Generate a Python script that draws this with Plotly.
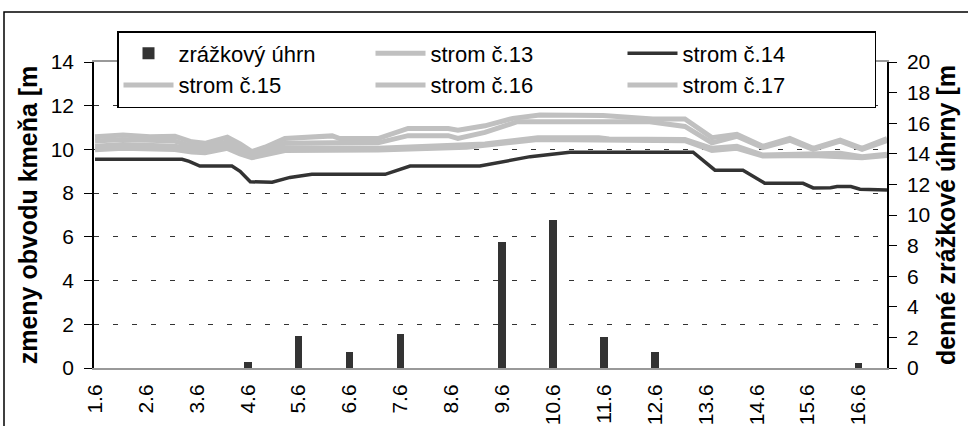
import plotly.graph_objects as go

# ---- data ----
tick_labels = ["1.6", "2.6", "3.6", "4.6", "5.6", "6.6", "7.6", "8.6",
               "9.6", "10.6", "11.6", "12.6", "13.6", "14.6", "15.6", "16.6"]
day_pos = list(range(len(tick_labels)))  # days after 1.6

# daily precipitation (right axis, mm)
precip = [0, 0, 0, 0.4, 2.1, 1.05, 2.2, 0, 8.25, 9.7, 2.0, 1.05, 0, 0, 0, 0.3]

# stem circumference changes (left axis, mm) - time in days after 1.6
t14 = [0, 1.71, 1.85, 2.06, 2.69, 2.85, 3.05, 3.48, 3.83, 4.26, 5.70, 5.95, 6.19,
       7.56, 8.02, 8.55, 8.98, 9.33, 11.75, 11.95, 12.18, 12.73, 12.95, 13.16,
       13.91, 14.11, 14.45, 14.58, 14.85, 15.03, 15.56]
v14 = [9.55, 9.55, 9.45, 9.24, 9.24, 9.0, 8.52, 8.5, 8.72, 8.86, 8.86, 9.05, 9.24,
       9.24, 9.44, 9.67, 9.78, 9.87, 9.87, 9.5, 9.05, 9.05, 8.75, 8.45,
       8.45, 8.24, 8.25, 8.3, 8.3, 8.18, 8.14]

t13 = [0, 0.55, 1.08, 1.57, 1.9, 2.16, 2.6, 2.85, 3.08, 3.34, 3.73, 4.66, 4.81,
       5.56, 6.15, 6.94, 7.13, 7.66, 8.21, 8.74, 9.98, 10.51, 10.96, 11.59,
       12.12, 12.61, 13.12, 13.65, 14.11, 14.64, 15.07, 15.56]
v13 = [10.58, 10.66, 10.58, 10.6, 10.35, 10.28, 10.56, 10.25, 9.9, 10.1, 10.5, 10.62, 10.5,
       10.5, 10.96, 10.96, 10.88, 11.08, 11.42, 11.57, 11.55, 11.48, 11.39, 11.39,
       10.54, 10.69, 10.14, 10.5, 10.05, 10.43, 10.05, 10.5]

t16 = [0, 0.55, 1.57, 1.9, 2.16, 2.6, 2.85, 3.08, 3.34, 3.73, 4.66, 5.56, 6.15,
       6.94, 7.13, 7.66, 8.3, 10.9, 11.59, 12.12, 12.61, 13.12, 13.65, 14.11,
       14.64, 15.07, 15.56]
v16 = [10.38, 10.45, 10.38, 10.15, 10.12, 10.35, 10.05, 9.8, 9.95, 10.28, 10.3, 10.3, 10.63,
       10.63, 10.5, 10.78, 11.27, 11.27, 11.05, 10.3, 10.6, 10.08, 10.42, 10.0,
       10.38, 10.0, 10.4]

t17 = [0, 0.55, 1.57, 1.9, 2.16, 2.6, 2.85, 3.08, 3.34, 3.73, 5.56, 6.15, 7.3,
       7.66, 8.7, 9.9, 10.1, 11.59, 12.12, 12.61, 13.12, 14.11, 14.64, 15.07, 15.56]
v17 = [10.15, 10.22, 10.15, 10.0, 9.98, 10.2, 9.9, 9.7, 9.85, 10.08, 10.05, 10.1, 10.2,
       10.25, 10.54, 10.54, 10.48, 10.45, 10.05, 10.14, 9.74, 9.78, 9.82, 9.67, 9.78]

t15 = [0, 0.55, 1.57, 1.9, 2.16, 2.6, 2.85, 3.08, 3.34, 3.73, 5.56, 6.15, 7.3,
       8.7, 11.59, 12.12, 12.61, 13.12, 14.11, 15.07, 15.56]
v15 = [9.98, 10.05, 10.0, 9.88, 9.85, 10.05, 9.8, 9.62, 9.75, 9.95, 9.97, 10.0, 10.1,
       10.45, 10.4, 9.95, 10.05, 9.7, 9.72, 9.62, 9.72]

GRAY = "#c0c0c0"
DARK = "#333333"
FONT = "Liberation Sans, Arial, sans-serif"

fig = go.Figure()
fig.add_trace(go.Bar(x=day_pos, y=precip, name="zrážkový úhrn", yaxis="y2",
                     marker=dict(color=DARK, line=dict(width=0)), width=0.15))
fig.add_trace(go.Scatter(x=t13, y=v13, name="strom č.13", mode="lines",
                         line=dict(color=GRAY, width=5)))
fig.add_trace(go.Scatter(x=t14, y=v14, name="strom č.14", mode="lines",
                         line=dict(color=DARK, width=3.5)))
fig.add_trace(go.Scatter(x=t15, y=v15, name="strom č.15", mode="lines",
                         line=dict(color=GRAY, width=5)))
fig.add_trace(go.Scatter(x=t16, y=v16, name="strom č.16", mode="lines",
                         line=dict(color=GRAY, width=5)))
fig.add_trace(go.Scatter(x=t17, y=v17, name="strom č.17", mode="lines",
                         line=dict(color=GRAY, width=5)))

L, R, T, B = 94, 81, 62, 58
W, H = 968, 426
pw, ph = W - L - R, H - T - B

def px_x(p):
    return (p - L) / pw

def px_y(p):
    return (H - B - p) / ph

fig.update_layout(
    width=W, height=H,
    margin=dict(l=L, r=R, t=T, b=B, autoexpand=False),
    paper_bgcolor="white", plot_bgcolor="white",
    font=dict(family=FONT, color="black", size=21),
    showlegend=True,
    bargap=0,
    xaxis=dict(
        range=[-0.02, 15.56], tickvals=day_pos, ticktext=tick_labels,
        tickangle=-90, ticks="", showgrid=False, zeroline=False,
        showline=True, linecolor="#999999", linewidth=2, mirror=True,
        tickfont=dict(size=21), ticklabelstandoff=6,
    ),
    yaxis=dict(
        range=[0, 14], tickvals=[0, 2, 4, 6, 8, 10, 12, 14],
        ticks="outside", ticklen=8, tickcolor="black", tickwidth=1.2,
        showline=True, linecolor="black", linewidth=1.5,
        showgrid=True, gridcolor="#333333", gridwidth=1.2, griddash="5px,14px",
        zeroline=False, tickfont=dict(size=21), ticklabelstandoff=6,
        title=dict(text="<b>zmeny obvodu kmeňa [m</b>", font=dict(size=25), standoff=6),
    ),
    yaxis2=dict(
        range=[0, 20], tickvals=[0, 2, 4, 6, 8, 10, 12, 14, 16, 18, 20],
        overlaying="y", side="right",
        ticks="outside", ticklen=8, tickcolor="black", tickwidth=1.2,
        showline=True, linecolor="black", linewidth=1.5,
        showgrid=False, zeroline=False, tickfont=dict(size=21), ticklabelstandoff=6,
        title=dict(text="<b>denné zrážkové úhrny [m</b>", font=dict(size=25), standoff=8),
    ),
    legend=dict(
        orientation="h", x=px_x(117), y=px_y(31), xanchor="left", yanchor="top",
        bgcolor="white", bordercolor="black", borderwidth=1.5,
        font=dict(size=22), itemwidth=50, entrywidth=187, entrywidthmode="pixels",
        traceorder="normal",
    ),
    shapes=[dict(type="rect", xref="paper", yref="paper",
                 x0=px_x(4), x1=px_x(990), y0=px_y(450), y1=px_y(12),
                 line=dict(color="black", width=1.5), fillcolor="rgba(0,0,0,0)",
                 layer="above")],
)

fig.write_html("out.html", config={"displayModeBar": False},
               post_script="document.body.style.margin='0px';")
